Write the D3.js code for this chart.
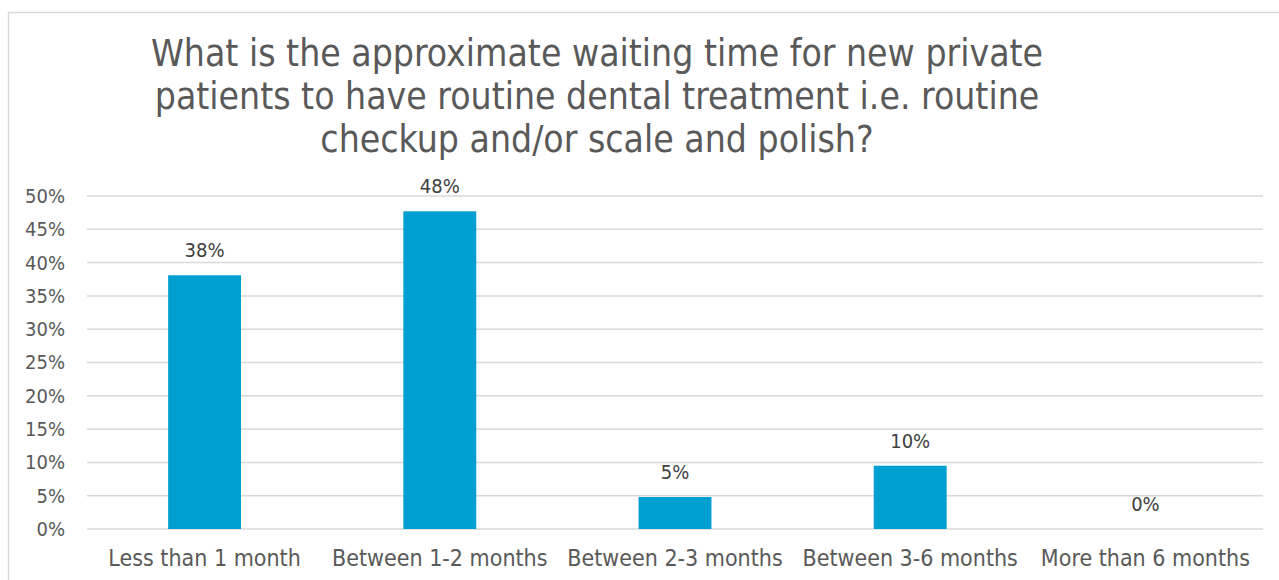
<!DOCTYPE html>
<html>
<head>
<meta charset="utf-8">
<title>Waiting time chart</title>
<script src="https://cdn.jsdelivr.net/npm/d3@7"></script>
<style>
  body { margin: 0; background: #fff; }
  text { font-family: "DejaVu Sans Condensed", "DejaVu Sans", sans-serif; font-stretch: condensed; }
  .grid line { stroke: #d9d9d9; stroke-width: 1.5; }
  .bar { fill: #009fd1; }
</style>
</head>
<body>
<script>
// data
var categories = ["Less than 1 month", "Between 1-2 months", "Between 2-3 months", "Between 3-6 months", "More than 6 months"];
var values = [0.381, 0.477, 0.048, 0.095, 0];
var valueLabels = ["38%", "48%", "5%", "10%", "0%"];
var yTicks = [0, 0.05, 0.1, 0.15, 0.2, 0.25, 0.3, 0.35, 0.4, 0.45, 0.5];
var titleLines = ["What is the approximate waiting time for new private",
                  "patients to have routine dental treatment i.e. routine",
                  "checkup and/or scale and polish?"];

var W = 1279, H = 580;
var margin = {top: 196, right: 16, bottom: 51, left: 87};
var width = W - margin.left - margin.right,
    height = H - margin.top - margin.bottom;
var font = "'DejaVu Sans Condensed', 'DejaVu Sans', sans-serif";

var svg = d3.select("body").append("svg")
    .attr("width", W)
    .attr("height", H);

// chart border
svg.append("rect")
    .attr("x", 8.5).attr("y", 12.5)
    .attr("width", W + 10).attr("height", H + 10)
    .attr("fill", "none")
    .attr("stroke", "#d9d9d9")
    .attr("stroke-width", 1.5);

// title
svg.append("text")
    .attr("text-anchor", "middle")
    .attr("fill", "#595959")
    .style("font-size", "37px")
    .selectAll("tspan")
    .data(titleLines)
    .enter().append("tspan")
    .attr("x", 597)
    .attr("y", function(d, i) { return 66 + i * 43; })
    .text(function(d) { return d; });

var g = svg.append("g")
    .attr("transform", "translate(" + margin.left + "," + margin.top + ")");

var x = d3.scaleBand()
    .domain(categories)
    .range([0, width])
    .paddingInner(0.69)
    .paddingOuter(0.345);

var y = d3.scaleLinear()
    .domain([0, 0.5])
    .range([height, 0]);

// gridlines
g.append("g")
    .attr("class", "grid")
    .selectAll("line")
    .data(yTicks)
    .enter().append("line")
    .attr("x1", 0).attr("x2", width)
    .attr("y1", function(d) { return y(d); })
    .attr("y2", function(d) { return y(d); });

// y axis
var yAxis = g.append("g")
    .call(d3.axisLeft(y).tickValues(yTicks).tickFormat(d3.format(".0%")).tickSize(0).tickPadding(22));
yAxis.select(".domain").remove();
yAxis.selectAll("text")
    .attr("fill", "#595959")
    .style("font-size", "20px")
    .style("font-family", font);

// x axis
var xAxis = g.append("g")
    .attr("transform", "translate(0," + height + ")")
    .call(d3.axisBottom(x).tickSize(0).tickPadding(21));
xAxis.select(".domain").remove();
xAxis.selectAll("text")
    .attr("fill", "#595959")
    .style("font-size", "23px")
    .style("font-family", font);

// bars
g.selectAll(".bar")
    .data(values)
    .enter().append("rect")
    .attr("class", "bar")
    .attr("x", function(d, i) { return x(categories[i]); })
    .attr("width", x.bandwidth())
    .attr("y", function(d) { return y(d); })
    .attr("height", function(d) { return height - y(d); });

// value labels
g.selectAll(".label")
    .data(values)
    .enter().append("text")
    .attr("class", "label")
    .attr("text-anchor", "middle")
    .attr("fill", "#404040")
    .style("font-size", "20px")
    .attr("x", function(d, i) { return x(categories[i]) + x.bandwidth() / 2; })
    .attr("y", function(d) { return y(d) - 18; })
    .text(function(d, i) { return valueLabels[i]; });
</script>
</body>
</html>
